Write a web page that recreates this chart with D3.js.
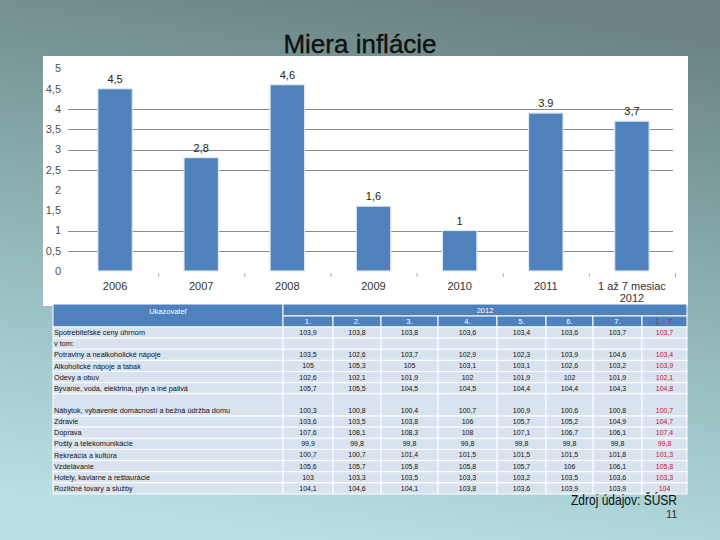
<!DOCTYPE html>
<html>
<head>
<meta charset="utf-8">
<script src="https://cdn.jsdelivr.net/npm/d3@7"></script>
<style>
  html, body { margin: 0; padding: 0; }
  svg { display: block; }
</style>
</head>
<body>
<script>
// ---------- DATA ----------
const categories = ["2006", "2007", "2008", "2009", "2010", "2011", "1 až 7 mesiac|2012"];
const inflation = [4.5, 2.8, 4.6, 1.6, 1, 3.9, 3.7];
const valueLabels = ["4,5", "2,8", "4,6", "1,6", "1", "3.9", "3,7"];
const yTicks = [0, 0.5, 1, 1.5, 2, 2.5, 3, 3.5, 4, 4.5, 5];
const gridValues = [0.5, 1, 2.5, 3, 3.5, 4];

const tableYear = "2012";
const headerLabel = "Ukazovateľ";
const monthHeaders = ["1.", "2.", "3.", "4.", "5.", "6.", "7.", "1. - 7."];
const indicators = [
  "Spotrebiteľské ceny úhrnom",
  "v tom:",
  "Potraviny a nealkoholické nápoje",
  "Alkoholické nápoje a tabak",
  "Odevy a obuv",
  "Bývanie, voda, elektrina, plyn a iné palivá",
  "Nábytok, vybavenie domácností a bežná údržba domu",
  "Zdravie",
  "Doprava",
  "Pošty a telekomunikácie",
  "Rekreácia a kultúra",
  "Vzdelávanie",
  "Hotely, kaviarne a reštaurácie",
  "Rozličné tovary a služby"
];
const indexValues = [
  ["103,9", "103,8", "103,8", "103,6", "103,4", "103,6", "103,7", "103,7"],
  null,
  ["103,5", "102,6", "103,7", "102,9", "102,3", "103,9", "104,6", "103,4"],
  ["105", "105,3", "105", "103,1", "103,1", "102,6", "103,2", "103,9"],
  ["102,6", "102,1", "101,9", "102", "101,9", "102", "101,9", "102,1"],
  ["105,7", "105,5", "104,5", "104,5", "104,4", "104,4", "104,3", "104,8"],
  ["100,3", "100,8", "100,4", "100,7", "100,9", "100,6", "100,8", "100,7"],
  ["103,6", "103,5", "103,8", "106", "105,7", "105,2", "104,9", "104,7"],
  ["107,6", "108,1", "108,3", "108", "107,1", "106,7", "106,1", "107,4"],
  ["99,9", "99,8", "99,8", "99,8", "99,8", "99,8", "99,8", "99,8"],
  ["100,7", "100,7", "101,4", "101,5", "101,5", "101,5", "101,8", "101,3"],
  ["105,6", "105,7", "105,8", "105,8", "105,7", "106", "106,1", "105,8"],
  ["103", "103,3", "103,5", "103,3", "103,2", "103,5", "103,6", "103,3"],
  ["104,1", "104,6", "104,1", "103,8", "103,6", "103,9", "103,9", "104"]
];
const rowSpans = [1, 1, 1, 1, 1, 1, 2, 1, 1, 1, 1, 1, 1, 1];
const sourceText = "Zdroj údajov: ŠÚSR";
const slideNumber = "11";

// ---------- LAYOUT ----------
const W = 720, H = 540;
const FONT = "'Liberation Sans', Arial, sans-serif";
const svg = d3.select("body").append("svg").attr("width", W).attr("height", H);

const defs = svg.append("defs");
const bg = defs.append("linearGradient").attr("id", "bg")
  .attr("x1", 0.6).attr("y1", 0).attr("x2", 0.4).attr("y2", 1);
bg.append("stop").attr("offset", "0%").attr("stop-color", "#6b8483");
bg.append("stop").attr("offset", "55%").attr("stop-color", "#93b9bb");
bg.append("stop").attr("offset", "100%").attr("stop-color", "#b9e1e4");
svg.append("rect").attr("width", W).attr("height", H).attr("fill", "url(#bg)");

// Title
svg.append("text").attr("x", 360).attr("y", 53).attr("text-anchor", "middle")
  .attr("font-family", FONT).attr("font-size", 26).attr("fill", "#111")
  .attr("stroke", "#111").attr("stroke-width", 0.4)
  .text("Miera inflácie");

// Chart panel
svg.append("rect").attr("x", 43).attr("y", 56).attr("width", 645).attr("height", 250)
  .attr("fill", "#ffffff");

const x = d3.scaleBand().domain(categories).range([72, 675]).paddingInner(0.6).paddingOuter(0.3);
const y = d3.scaleLinear().domain([0, 5]).range([271, 68.5]);

const g = svg.append("g");

// grid
g.selectAll("line.grid").data(gridValues).join("line")
  .attr("x1", 68).attr("x2", 673)
  .attr("y1", d => Math.round(y(d)) + 0.5).attr("y2", d => Math.round(y(d)) + 0.5)
  .attr("stroke", "#8a8a8a").attr("stroke-width", 1);

// y axis labels
g.selectAll("text.ytick").data(yTicks).join("text")
  .attr("x", 61).attr("y", d => y(d)).attr("dy", "0.35em")
  .attr("text-anchor", "end").attr("font-family", FONT).attr("font-size", 11)
  .attr("fill", "#505050")
  .text(d => String(d).replace(".", ","));

// category separator ticks
const step = x.step();
g.selectAll("line.xt").data(categories.slice(1).concat(["end"])).join("line")
  .attr("x1", (d, i) => x(categories[0]) - x.paddingOuter() * step + step * (i + 1) + 0.5)
  .attr("x2", (d, i) => x(categories[0]) - x.paddingOuter() * step + step * (i + 1) + 0.5)
  .attr("y1", 273).attr("y2", 277)
  .attr("stroke", "#b0b0b0");

// bars
g.selectAll("rect.bar").data(inflation).join("rect")
  .attr("x", (d, i) => x(categories[i]))
  .attr("y", d => y(d))
  .attr("width", x.bandwidth())
  .attr("height", d => y(0) - y(d))
  .attr("fill", "#4f81bd")
  .attr("stroke", "#dfe8f3").attr("stroke-width", 1.2);

// value labels
g.selectAll("text.val").data(inflation).join("text")
  .attr("x", (d, i) => x(categories[i]) + x.bandwidth() / 2)
  .attr("y", d => y(d) - 6)
  .attr("text-anchor", "middle").attr("font-family", FONT).attr("font-size", 11)
  .attr("fill", "#222")
  .text((d, i) => valueLabels[i]);

// category labels
categories.forEach((c, i) => {
  const lines = c.split("|");
  const t = g.append("text")
    .attr("x", x(c) + x.bandwidth() / 2).attr("y", 290)
    .attr("text-anchor", "middle").attr("font-family", FONT).attr("font-size", 11)
    .attr("fill", "#333");
  lines.forEach((ln, j) => {
    t.append("tspan").attr("x", x(c) + x.bandwidth() / 2).attr("dy", j === 0 ? 0 : 12).text(ln);
  });
});

// ---------- TABLE ----------
const colEdges = [53, 283, 333, 381, 438, 497, 546, 593, 642, 687];
const tTop = 304, h1 = 12, h2 = 11, unit = 11.13;
const cellFill = "#d9e3f0", headFill = "#4f81bd", red = "#c8102e";
const tg = svg.append("g").attr("font-family", FONT);

// header: Ukazovateľ
tg.append("rect").attr("x", colEdges[0]).attr("y", tTop).attr("width", colEdges[1] - colEdges[0])
  .attr("height", h1 + h2).attr("fill", headFill).attr("stroke", "#fff").attr("stroke-width", 1);
tg.append("text").attr("x", (colEdges[0] + colEdges[1]) / 2).attr("y", tTop + 10)
  .attr("text-anchor", "middle").attr("font-size", 7.5).attr("fill", "#fff").text(headerLabel);
// header: year
tg.append("rect").attr("x", colEdges[1]).attr("y", tTop).attr("width", colEdges[9] - colEdges[1])
  .attr("height", h1).attr("fill", headFill).attr("stroke", "#fff").attr("stroke-width", 1);
tg.append("text").attr("x", (colEdges[1] + colEdges[9]) / 2).attr("y", tTop + h1 / 2).attr("dy", "0.35em")
  .attr("text-anchor", "middle").attr("font-size", 7.5).attr("fill", "#fff").text(tableYear);
// header: months
monthHeaders.forEach((m, i) => {
  tg.append("rect").attr("x", colEdges[i + 1]).attr("y", tTop + h1)
    .attr("width", colEdges[i + 2] - colEdges[i + 1]).attr("height", h2)
    .attr("fill", headFill).attr("stroke", "#fff").attr("stroke-width", 1);
  tg.append("text").attr("x", (colEdges[i + 1] + colEdges[i + 2]) / 2).attr("y", tTop + h1 + h2 / 2)
    .attr("dy", "0.35em").attr("text-anchor", "middle").attr("font-size", 7.5)
    .attr("fill", i === 7 ? "#c0184a" : "#fff").text(m);
});

// body rows
let yy = tTop + h1 + h2;
indicators.forEach((name, r) => {
  const rh = unit * rowSpans[r];
  const ty = yy + rh - unit / 2;
  for (let c = 0; c < 9; c++) {
    tg.append("rect").attr("x", colEdges[c]).attr("y", yy)
      .attr("width", colEdges[c + 1] - colEdges[c]).attr("height", rh)
      .attr("fill", cellFill).attr("stroke", "#fff").attr("stroke-width", 1);
  }
  tg.append("text").attr("x", colEdges[0] + 1).attr("y", ty).attr("dy", "0.35em")
    .attr("font-size", 7.3).attr("fill", "#111").text(name);
  const vals = indexValues[r];
  if (vals) {
    vals.forEach((v, c) => {
      tg.append("text").attr("x", (colEdges[c + 1] + colEdges[c + 2]) / 2).attr("y", ty).attr("dy", "0.35em")
        .attr("text-anchor", "middle").attr("font-size", 7)
        .attr("fill", c === 7 ? red : "#111").text(v);
    });
  }
  yy += rh;
});

// Source
svg.append("text").attr("x", 571).attr("y", 505)
  .attr("font-family", FONT).attr("font-size", 15).attr("fill", "#111")
  .attr("textLength", 106).attr("lengthAdjust", "spacingAndGlyphs")
  .text(sourceText);
svg.append("text").attr("x", 666).attr("y", 518)
  .attr("font-family", FONT).attr("font-size", 11).attr("fill", "#333")
  .text(slideNumber);
</script>
</body>
</html>
